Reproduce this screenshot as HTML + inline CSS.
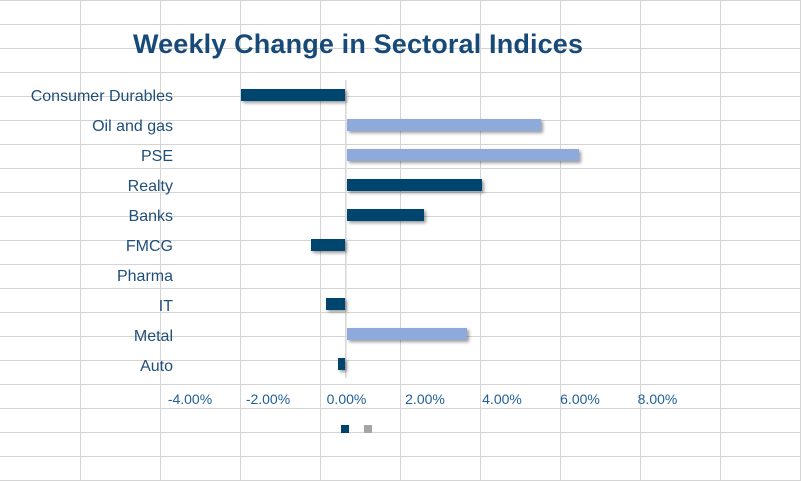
<!DOCTYPE html>
<html>
<head>
<meta charset="utf-8">
<style>
  html,body{margin:0;padding:0;background:#fff;}
  body{width:801px;height:481px;overflow:hidden;}
  svg{display:block;}
  text{font-family:"Liberation Sans",sans-serif;}
</style>
</head>
<body>
<svg width="801" height="481" viewBox="0 0 801 481" xmlns="http://www.w3.org/2000/svg">
  <defs>
    <filter id="sh" x="-20%" y="-50%" width="140%" height="250%">
      <feDropShadow dx="2" dy="2" stdDeviation="1.5" flood-color="#000" flood-opacity="0.4"/>
    </filter>
  </defs>
  <rect width="801" height="481" fill="#fff"/>
  <g fill="#d4d4d4">
    <rect x="80" y="0" width="1" height="481"/>
    <rect x="160" y="0" width="1" height="481"/>
    <rect x="240" y="0" width="1" height="481"/>
    <rect x="320" y="0" width="1" height="481"/>
    <rect x="400" y="0" width="1" height="481"/>
    <rect x="480" y="0" width="1" height="481"/>
    <rect x="560" y="0" width="1" height="481"/>
    <rect x="640" y="0" width="1" height="481"/>
    <rect x="720" y="0" width="1" height="481"/>
    <rect x="800" y="0" width="1" height="481"/>
    <rect x="0" y="0" width="801" height="1"/>
    <rect x="0" y="24" width="801" height="1"/>
    <rect x="0" y="48" width="801" height="1"/>
    <rect x="0" y="72" width="801" height="1"/>
    <rect x="0" y="96" width="801" height="1"/>
    <rect x="0" y="120" width="801" height="1"/>
    <rect x="0" y="144" width="801" height="1"/>
    <rect x="0" y="168" width="801" height="1"/>
    <rect x="0" y="192" width="801" height="1"/>
    <rect x="0" y="216" width="801" height="1"/>
    <rect x="0" y="240" width="801" height="1"/>
    <rect x="0" y="264" width="801" height="1"/>
    <rect x="0" y="288" width="801" height="1"/>
    <rect x="0" y="312" width="801" height="1"/>
    <rect x="0" y="336" width="801" height="1"/>
    <rect x="0" y="360" width="801" height="1"/>
    <rect x="0" y="384" width="801" height="1"/>
    <rect x="0" y="408" width="801" height="1"/>
    <rect x="0" y="432" width="801" height="1"/>
    <rect x="0" y="456" width="801" height="1"/>
    <rect x="0" y="480" width="801" height="1"/>
  </g>

  <text x="133" y="53" font-size="27" font-weight="bold" fill="#174a78" textLength="450" lengthAdjust="spacing">Weekly Change in Sectoral Indices</text>

  <!-- axis -->
  <rect x="345" y="80" width="1.6" height="298" fill="#d9d9d9"/>

  <!-- bars -->
  <g filter="url(#sh)">
    <rect x="241" y="89" width="104" height="12" fill="#00446e"/>
    <rect x="347" y="119" width="194" height="12" fill="#8eaadb"/>
    <rect x="347" y="149" width="232" height="12" fill="#8eaadb"/>
    <rect x="347" y="179" width="135" height="12" fill="#00446e"/>
    <rect x="347" y="209" width="77" height="12" fill="#00446e"/>
    <rect x="311" y="239" width="34" height="12" fill="#00446e"/>
    <rect x="326" y="298" width="19" height="12" fill="#00446e"/>
    <rect x="347" y="328" width="120" height="12" fill="#8eaadb"/>
    <rect x="338" y="358" width="7" height="12" fill="#00446e"/>
  </g>

  <!-- category labels -->
  <g font-size="16" fill="#1f4e79" text-anchor="end">
    <text x="173" y="101">Consumer Durables</text>
    <text x="173" y="131">Oil and gas</text>
    <text x="173" y="161">PSE</text>
    <text x="173" y="191">Realty</text>
    <text x="173" y="221">Banks</text>
    <text x="173" y="251">FMCG</text>
    <text x="173" y="281">Pharma</text>
    <text x="173" y="311">IT</text>
    <text x="173" y="341">Metal</text>
    <text x="173" y="371">Auto</text>
  </g>

  <!-- tick labels -->
  <g font-size="14" fill="#1f5f99" text-anchor="middle">
    <text x="190" y="404">-4.00%</text>
    <text x="268" y="404">-2.00%</text>
    <text x="346.5" y="404">0.00%</text>
    <text x="425" y="404">2.00%</text>
    <text x="502" y="404">4.00%</text>
    <text x="580" y="404">6.00%</text>
    <text x="657.5" y="404">8.00%</text>
  </g>

  <!-- legend -->
  <rect x="341" y="425" width="8" height="8" fill="#00446e"/>
  <rect x="364" y="425" width="8" height="8" fill="#a5a5a5"/>
</svg>
</body>
</html>
